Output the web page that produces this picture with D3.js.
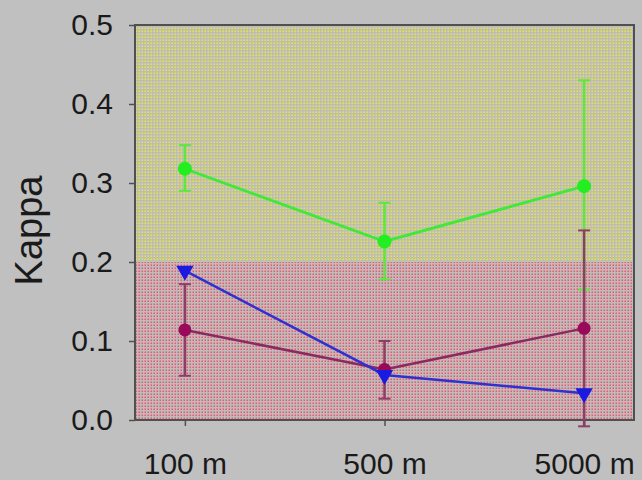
<!DOCTYPE html>
<html><head><meta charset="utf-8">
<script src="https://cdn.jsdelivr.net/npm/d3@7"></script>
<style>html,body{margin:0;padding:0;background:#c0c0c0;overflow:hidden}</style>
</head><body>
<script>
const categories = ["100 m", "500 m", "5000 m"];
const greenMean = [0.318, 0.226, 0.296];
const greenLow  = [0.290, 0.178, 0.165];
const greenHigh = [0.348, 0.275, 0.430];
const purpleMean = [0.114, 0.064, 0.116];
const purpleLow  = [0.056, 0.027, -0.008];
const purpleHigh = [0.172, 0.100, 0.240];
const blueMean = [0.189, 0.057, 0.034];
const yTicks = [0.0, 0.1, 0.2, 0.3, 0.4, 0.5];
const bandLimits = [0.0, 0.2, 0.5];

(function () {
const W = 642, H = 480;
const svg = d3.select("body").append("svg").attr("width", W).attr("height", H);
svg.append("rect").attr("width", W).attr("height", H).attr("fill", "#c0c0c0");

const pL = 135, pR = 634, pT = 25, pB = 420;
const x = d3.scalePoint().domain(categories).range([pL, pR]).padding(0.25);
const y = d3.scaleLinear().domain([0, 0.5]).range([pB, pT]);

const defs = svg.append("defs");
function pat(id, dot) {
  const p = defs.append("pattern").attr("id", id).attr("patternUnits", "userSpaceOnUse")
    .attr("width", 3).attr("height", 3);
  p.append("rect").attr("width", 3).attr("height", 3).attr("fill", "#bcbcbc");
  p.append("rect").attr("x", 0.5).attr("y", 0.5).attr("width", 1.5).attr("height", 1.5).attr("fill", dot);
}
pat("pY", "#e8e834");
pat("pR", "#f45468");

svg.append("rect").attr("x", pL).attr("width", pR - pL)
  .attr("y", y(bandLimits[2])).attr("height", y(bandLimits[1]) - y(bandLimits[2])).attr("fill", "url(#pY)");
svg.append("rect").attr("x", pL).attr("width", pR - pL)
  .attr("y", y(bandLimits[1])).attr("height", y(bandLimits[0]) - y(bandLimits[1])).attr("fill", "url(#pR)");

svg.append("rect").attr("x", pL).attr("y", pT).attr("width", pR - pL).attr("height", pB - pT)
  .attr("fill", "none").attr("stroke", "#505050").attr("stroke-width", 2);

const yAx = svg.append("g").attr("transform", `translate(${pL},0)`)
  .call(d3.axisLeft(y).tickValues(yTicks).tickFormat(d3.format(".1f")).tickSize(6).tickPadding(16));
yAx.select(".domain").remove();
yAx.selectAll("line").attr("stroke", "#505050").attr("stroke-width", 1.5);
yAx.selectAll("text").attr("font-family", "Liberation Sans, Arial, sans-serif").attr("font-size", 30).attr("fill", "#1a1a1a");

const xAx = svg.append("g").attr("transform", `translate(0,${pB})`)
  .call(d3.axisBottom(x).tickSize(6));
xAx.select(".domain").remove();
xAx.selectAll("line").attr("stroke", "#505050").attr("stroke-width", 1.5);
xAx.selectAll("text").attr("y", 54).attr("dy", 0)
  .attr("font-family", "Liberation Sans, Arial, sans-serif").attr("font-size", 30).attr("fill", "#1a1a1a");

svg.append("text").attr("transform", `translate(42,${(pT + pB) / 2 + 8}) rotate(-90)`)
  .attr("text-anchor", "middle").attr("font-family", "Liberation Sans, Arial, sans-serif")
  .attr("font-size", 38).attr("fill", "#1a1a1a").text("Kappa");

const line = d3.line().x((d, i) => x(categories[i])).y(d => y(d));

function errbars(lo, hi, color, cap) {
  const g = svg.append("g");
  categories.forEach((c, i) => {
    g.append("line").attr("x1", x(c)).attr("x2", x(c)).attr("y1", y(lo[i])).attr("y2", y(hi[i]))
      .attr("stroke", color).attr("stroke-width", 2.5);
    [lo[i], hi[i]].forEach(v => g.append("line").attr("x1", x(c) - cap).attr("x2", x(c) + cap)
      .attr("y1", y(v)).attr("y2", y(v)).attr("stroke", color).attr("stroke-width", 2));
  });
}

errbars(greenLow, greenHigh, "#5ce83c", 6);
svg.append("path").datum(greenMean).attr("d", line).attr("fill", "none").attr("stroke", "#3fe83a").attr("stroke-width", 2.8);
svg.selectAll(".gp").data(greenMean).enter().append("circle")
  .attr("cx", (d, i) => x(categories[i])).attr("cy", d => y(d)).attr("r", 7).attr("fill", "#22ee22");

errbars(purpleLow, purpleHigh, "#8e3e66", 6);
svg.append("path").datum(purpleMean).attr("d", line).attr("fill", "none").attr("stroke", "#8a2a5e").attr("stroke-width", 2.5);
svg.selectAll(".pp").data(purpleMean).enter().append("circle")
  .attr("cx", (d, i) => x(categories[i])).attr("cy", d => y(d)).attr("r", 6.5).attr("fill", "#9a0a5a");

svg.append("path").datum(blueMean).attr("d", line).attr("fill", "none").attr("stroke", "#3030d0").attr("stroke-width", 2.5);
const tri = d3.symbol().type(d3.symbolTriangle).size(130);
svg.selectAll(".bp").data(blueMean).enter().append("path")
  .attr("d", tri)
  .attr("transform", (d, i) => `translate(${x(categories[i])},${y(d)}) rotate(180)`)
  .attr("fill", "#1a1ae0");
})();
</script>
</body></html>
